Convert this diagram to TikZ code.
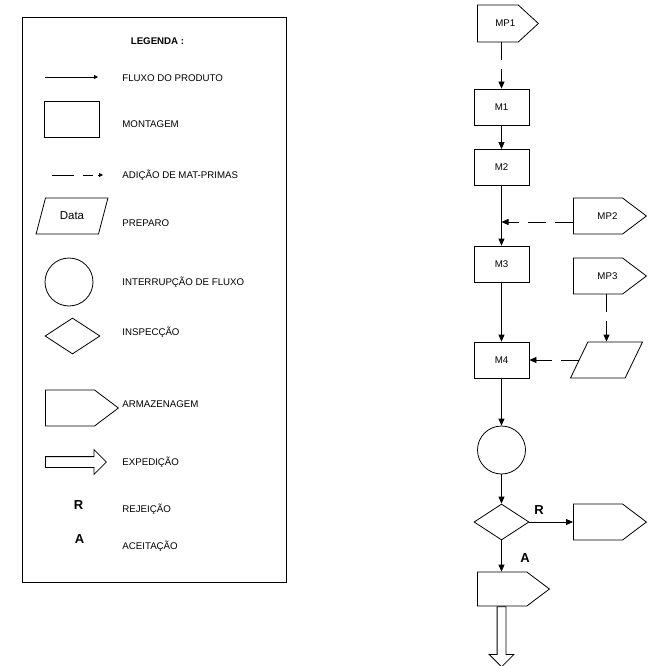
\documentclass[tikz,border=0pt]{standalone}
\usepackage{fontspec}
\setmainfont{Liberation Sans}
\usetikzlibrary{shapes.geometric,shapes.symbols,shapes.arrows,arrows.meta}

\begin{document}
\begin{tikzpicture}[x=1pt, y=-1pt, line width=0.8pt,
    font=\fontsize{9.7}{11}\selectfont,
    montagem/.style={draw, rectangle, inner sep=0pt,
      minimum width=55pt, minimum height=36pt},
    preparo/.style={draw, trapezium, trapezium left angle=65,
      trapezium right angle=115, trapezium stretches=true, inner sep=1pt,
      minimum width=72pt, minimum height=36pt},
    interrupcao/.style={draw, circle, inner sep=0pt, minimum size=48pt},
    inspecao/.style={draw, diamond, inner sep=0pt,
      minimum width=55pt, minimum height=36pt},
    armazem/.style={draw, signal, signal to=east, signal pointer angle=74,
      inner sep=0pt, minimum width=73pt, minimum height=36pt, anchor=west},
    expedicao/.style={draw, single arrow, single arrow head extend=7pt,
      inner xsep=0pt, inner ysep=5pt, minimum width=24pt, minimum height=61pt},
    legtxt/.style={anchor=base west, inner sep=0pt},
    flow/.style={-{Triangle[length=7pt,width=6pt]}},
    dashflow/.style={flow, dash pattern=on 18pt off 9pt},
    legflow/.style={-{Triangle[length=4pt,width=4pt]}},
    letra/.style={font=\bfseries\fontsize{13}{13}\selectfont, inner sep=0pt}]
    \useasboundingbox (0,0) rectangle (659,666);

    % Legend box
    \draw (22,17) rectangle (286,582);
    \node[font=\bfseries\fontsize{9.7}{11}\selectfont, anchor=base, inner sep=0pt]
      (leg) at (157.5,45) {LEGENDA :};

    % Legend symbols
    \coordinate (fa) at (45,77);
    \coordinate (fb) at (98,77);
    \draw[legflow] (fa) -- (fb);
    \node[montagem] (lm) at (72,119.5) {};
    \coordinate (da) at (52,175);
    \coordinate (db) at (103,175);
    \draw[legflow, dash pattern=on 22pt off 9pt on 10pt off 5pt] (da) -- (db);
    \node[preparo, font=\fontsize{11.5}{12}\selectfont] (lp) at (72,216) {Data};
    \node[interrupcao] (lc) at (69,282) {};
    \node[inspecao] (li) at (72.5,336) {};
    \node[armazem] (la) at (45,408) {};
    \node[expedicao, anchor=tail] (le) at (45,462) {};
    \node[letra] (lr) at (78.5,505.5) {R};
    \node[letra] (lac) at (79.5,539) {A};

    % Legend texts
    \node[legtxt] (t1) at (122,82) {FLUXO DO PRODUTO};
    \node[legtxt] (t2) at (122,128) {MONTAGEM};
    \node[legtxt] (t3) at (122,178) {ADIÇÃO DE MAT-PRIMAS};
    \node[legtxt] (t4) at (122,226) {PREPARO};
    \node[legtxt] (t5) at (122,285) {INTERRUPÇÃO DE FLUXO};
    \node[legtxt] (t6) at (122,335) {INSPECÇÃO};
    \node[legtxt] (t7) at (122,407) {ARMAZENAGEM};
    \node[legtxt] (t8) at (122,465) {EXPEDIÇÃO};
    \node[legtxt] (t9) at (122,512) {REJEIÇÃO};
    \node[legtxt] (t10) at (122,549) {ACEITAÇÃO};

    % Flow chart
    \node[armazem, signal pointer angle=85, minimum width=61pt,
      minimum height=37pt] (mp1) at (477,23.5) {\hspace*{15pt}MP1};
    \node[montagem] (m1) at (501.5,107) {M1};
    \node[montagem] (m2) at (501.5,167.5) {M2};
    \node[armazem] (mp2) at (573,216) {\hspace*{19pt}MP2};
    \coordinate (j2) at (501.5,222);
    \node[montagem] (m3) at (501.5,264) {M3};
    \node[armazem] (mp3) at (573,276) {\hspace*{19pt}MP3};
    \node[preparo] (pr) at (606.5,360) {};
    \node[montagem] (m4) at (501.5,360) {M4};
    \node[interrupcao] (ci) at (501.5,450) {};
    \node[inspecao] (in) at (501.5,522) {};
    \node[armazem] (rej) at (573,522) {};
    \node[armazem, minimum width=72pt, minimum height=34pt] (ace) at (477,589) {};
    \node[expedicao, rotate=-90, anchor=tail, minimum height=60pt,
      inner ysep=4pt, single arrow head extend=8pt]
      (exp) at (in.south |- ace.south) {};
    \node[letra] (r) at (539,510) {R};
    \node[letra] (a) at (525,558) {A};

    % Connections
    \draw[dashflow] (m1.north |- mp1.south) -- (m1.north);
    \draw[flow] (m1) -- (m2);
    \draw[flow] (m2) -- (m3);
    \draw[dashflow] (mp2.west |- j2) -- (j2);
    \draw[flow] (m3) -- (m4);
    \draw[dashflow] (pr.north |- mp3.south) -- (pr.north);
    \draw[dashflow] (pr.west) -- (m4.east);
    \draw[flow] (m4) -- (ci);
    \draw[flow] (ci) -- (in);
    \draw[flow] (in) -- (rej);
    \draw[flow] (in.south) -- (in.south |- ace.north);
\end{tikzpicture}
\end{document}
